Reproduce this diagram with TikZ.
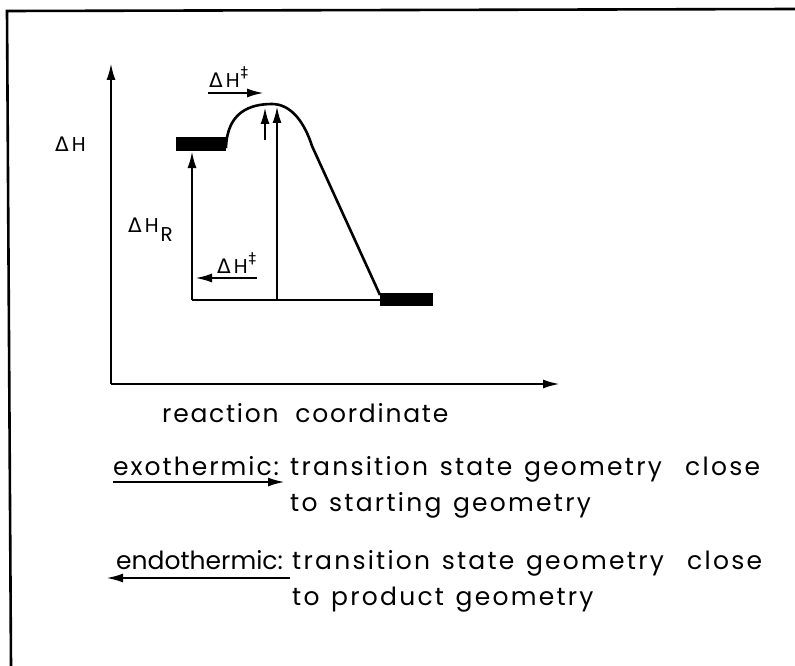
\documentclass[tikz,border=0pt]{standalone}
\usepackage{fontspec}
\setmainfont{Poppins}
\newfontfamily\bodyfont[LetterSpace=9,WordSpace=1.3]{Poppins}
\newfontfamily\exofont[LetterSpace=8]{Poppins}
\newfontfamily\rcfont[LetterSpace=7,WordSpace=2]{Poppins}
\newfontfamily\dvs{DejaVu Sans}
\usetikzlibrary{arrows.meta}
\newcommand{\dHsym}{{\dvs Δ}\kern3pt H}
\newcommand{\myddag}{\raisebox{10pt}{\kern1pt\fontsize{15}{15}\dvs ‡}}
\begin{document}
\begin{tikzpicture}[x=1pt,y=-1pt,
  ln/.style={line width=2.6pt},
  arr/.style={line width=2.4pt,-{Latex[length=17pt,width=9pt]}},
  lbl/.style={inner sep=0pt,anchor=base west,font=\fontsize{20}{20}\selectfont},
  txt/.style={inner sep=0pt,anchor=base west,font=\fontsize{25}{25}\bodyfont},
  bar/.style={fill=black,draw=none}]
\useasboundingbox (0,0) rectangle (795,666);
% frame
\coordinate (fr) at (795,9);
\coordinate (fc) at (7,11);
\coordinate (fb) at (11,666);
\draw[ln] (fr) -- (fc) -- (fb);
% axes
\coordinate (o) at (111,384);
\coordinate (ytop) at (111,63);
\coordinate (xend) at (560,384);
\draw[arr] (o) -- (ytop);
\draw[arr] (o) -- (xend);
\node[lbl] (dh) at (55,152) {\dHsym};
% bars
\fill[bar] (176,137) rectangle (226,151);
\fill[bar] (380,293) rectangle (433,306);
\coordinate (r) at (226,148);
\coordinate (p) at (380,295);
\coordinate (top) at (272,104);
\draw[line width=2.6pt] (r) .. controls (227,112) and (250,104) .. (top)
  .. controls (292,104) and (305,124) .. (312,146) -- (p);
% baseline & verticals
\coordinate (b1) at (192,300);
\coordinate (b2) at (277,300);
\coordinate (b3) at (380,300);
\draw[line width=1.8pt] (b1) -- (b3);
\coordinate (rbar) at (192,151);
\draw[arr] (b1) -- (rbar);
\coordinate (ts) at (277,106);
\draw[arr] (b2) -- (ts);
\coordinate (s1) at (265,140);
\coordinate (s2) at (265,107);
\draw[arr] (s1) -- (s2);
% labels
\node[lbl] (dhr) at (128,232) {\dHsym\raisebox{-9pt}{\kern2pt R}};
\node[lbl] (dht) at (209,88) {\dHsym\myddag};
\coordinate (a1) at (208,93);
\coordinate (a2) at (264,93);
\draw[arr] (a1) -- (a2);
\node[lbl] (dhb) at (217,273) {\dHsym\myddag};
\coordinate (a3) at (257,278);
\coordinate (a4) at (195,278);
\draw[arr] (a3) -- (a4);
% texts
\node[txt,font=\fontsize{25}{25}\rcfont] (rc) at (162,422) {reaction coordinate};
\node[txt,font=\fontsize{25}{25}\exofont] (exo) at (113,475) {exothermic:};
\node[txt] (exo1) at (290,475) {transition state geometry\ \ close};
\node[txt] (exo2) at (290,511) {to starting geometry};
\coordinate (e1) at (113,482);
\coordinate (e2) at (285,482);
\draw[arr] (e1) -- (e2);
\node[txt,font=\fontsize{25}{25}\rmfamily] (endo) at (116,569) {endothermic:};
\node[txt] (endo1) at (292,569) {transition state geometry\ \ close};
\node[txt] (endo2) at (292,605) {to product geometry};
\coordinate (n1) at (290,578);
\coordinate (n2) at (106,578);
\draw[arr] (n1) -- (n2);
\end{tikzpicture}
\end{document}
